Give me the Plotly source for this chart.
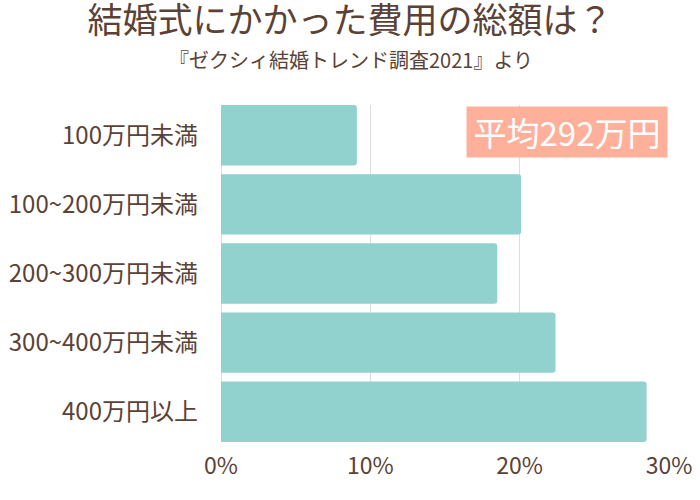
import plotly.graph_objects as go

categories = ["100万円未満", "100~200万円未満", "200~300万円未満", "300~400万円未満", "400万円以上"]
values = [9.1, 20.1, 18.5, 22.4, 28.5]
x_ticks = [0, 10, 20, 30]
x_tick_labels = ["0%", "10%", "20%", "30%"]
title_text = "結婚式にかかった費用の総額は？"
subtitle_text = "『ゼクシィ結婚トレンド調査2021』より"
average_text = "平均292万円"

BROWN = "#5B4236"
FONT = "Noto Sans CJK JP"

fig = go.Figure(go.Bar(
    x=values, y=categories, orientation="h",
    marker=dict(color="#91D1CE", line=dict(width=0)),
    hoverinfo="skip",
))

fig.update_layout(
    width=700, height=500,
    margin=dict(l=221, r=31, t=105, b=58, autoexpand=False),
    paper_bgcolor="white", plot_bgcolor="white",
    bargap=0.126, barcornerradius=3,
    font=dict(family=FONT, color=BROWN),
    showlegend=False,
    title=dict(text=title_text, x=0.5, xref="container", xanchor="center",
               y=1 - 21 / 500, yref="container", yanchor="middle",
               font=dict(size=35, color=BROWN, family=FONT)),
    xaxis=dict(range=[0, 30], tickvals=x_ticks, ticktext=x_tick_labels,
               showgrid=True, gridcolor="#DDDDDD", gridwidth=1,
               zeroline=True, zerolinecolor="#DDDDDD", zerolinewidth=1,
               showline=False, ticks="", tickfont=dict(size=23, color=BROWN),
               ticklabelstandoff=8, fixedrange=True),
    yaxis=dict(categoryorder="array", categoryarray=categories,
               range=[4.437, -0.437], showgrid=False, zeroline=False,
               ticks="", tickfont=dict(size=24, color=BROWN),
               ticklabelstandoff=22, fixedrange=True),
    annotations=[
        dict(text=subtitle_text, xref="paper", yref="paper", x=(351 - 221) / 448, y=1,
             xanchor="center", yanchor="middle", yshift=105 - 59,
             showarrow=False, font=dict(size=20, color=BROWN, family=FONT)),
        dict(text=average_text, xref="paper", yref="paper", x=1, y=1,
             xanchor="right", yanchor="top", xshift=-1, yshift=-1,
             width=200, height=50, borderpad=0, bgcolor="#FFB09A",
             showarrow=False, font=dict(size=33, color="white", family=FONT)),
    ],
)

fig.write_html("out.html", config={"displayModeBar": False},
               post_script="document.body.style.margin='0';")
